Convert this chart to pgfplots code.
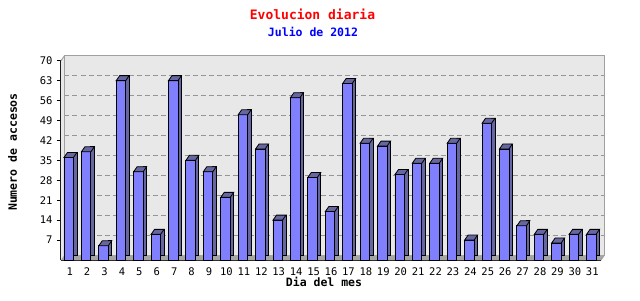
\documentclass[border=0pt]{standalone}
\usepackage{pgfplots}
\usepackage{pgfplotstable}
\pgfplotsset{compat=1.18}
\usepackage{fontspec}
\setmainfont{DejaVu Sans Mono}
\definecolor{barfront}{RGB}{128,128,255}
\definecolor{barside}{RGB}{102,102,160}
\definecolor{wall}{RGB}{232,232,232}
\definecolor{floorc}{RGB}{165,165,165}
\definecolor{gridc}{RGB}{150,150,150}
\definecolor{framec}{RGB}{160,160,160}
\pgfdeclareplotmark{top3d}{%
  \pgfpathmoveto{\pgfqpoint{-5.75pt}{0pt}}%
  \pgfpathlineto{\pgfqpoint{3.75pt}{0pt}}%
  \pgfpathlineto{\pgfqpoint{7.25pt}{5pt}}%
  \pgfpathlineto{\pgfqpoint{-2.25pt}{5pt}}%
  \pgfpathclose
  \pgfusepathqfillstroke
}
\pgfplotstableread{
day val
1 36
2 38
3 5
4 63
5 31
6 9
7 63
8 35
9 31
10 22
11 51
12 39
13 14
14 57
15 29
16 17
17 62
18 41
19 40
20 30
21 34
22 34
23 41
24 7
25 48
26 39
27 12
28 9
29 6
30 9
31 9
}\visits
\begin{document}
\begin{tikzpicture}[x=1pt,y=1pt]
\useasboundingbox[fill=white] (-61,-40) rectangle (579,260);
\node[text=red, font=\fontsize{13}{13}\selectfont\bfseries] at (251.5,246) {Evolucion diaria};
\node[text=blue, font=\fontsize{11.5}{12}\selectfont\bfseries] at (252,228) {Julio de 2012};
\node[rotate=90, font=\fontsize{11.5}{12}\selectfont\bfseries] at (-48.5,108) {Numero de accesos};
\node[font=\fontsize{11.5}{12}\selectfont\bfseries] at (263,-22) {Dia del mes};
\begin{axis}[
  scale only axis,
  width=540pt, height=199.3pt,
  xmin=0.5, xmax=31.5, ymin=0, ymax=70,
  axis x line*=bottom, axis y line*=left,
  axis line style={-, black, line width=1pt},
  clip=false,
  xtick={1,...,31}, ytick={7,14,...,70},
  minor xtick={1.5,2.5,...,31.5},
  tick align=outside,
  xtick style={draw=none},
  ytick style={black, line width=1pt},
  major tick length=4pt,
  minor tick length=3pt,
  minor x tick style={black, line width=1pt},
  /pgf/number format/assume math mode=true,
  ticklabel style={font=\fontsize{10.5}{10.5}\selectfont},
  yticklabel style={xshift=-1pt},
]
\fill[wall] (axis cs:0.5,0) -- (axis cs:0.5,70) -- ([shift={(3.5pt,5pt)}]axis cs:0.5,70)
  -- ([shift={(3.5pt,5pt)}]axis cs:31.5,70) -- ([shift={(3.5pt,5pt)}]axis cs:31.5,0)
  -- (axis cs:31.5,0) -- cycle;
\fill[floorc] (axis cs:0.5,0) -- (axis cs:31.5,0) -- ([shift={(3.5pt,5pt)}]axis cs:31.5,0)
  -- ([shift={(3.5pt,5pt)}]axis cs:0.5,0) -- cycle;
\pgfplotsinvokeforeach{7,14,21,28,35,42,49,56,63}{
  \draw[gridc, line width=0.8pt, dash pattern=on 5pt off 3pt]
    ([shift={(3.5pt,5pt)}]axis cs:0.5,#1) -- ([shift={(3.5pt,5pt)}]axis cs:31.5,#1);
}
\draw[framec, line width=1pt] ([shift={(3.5pt,5pt)}]axis cs:0.5,0) -- ([shift={(3.5pt,5pt)}]axis cs:0.5,70)
  -- ([shift={(3.5pt,5pt)}]axis cs:31.5,70) -- ([shift={(3.5pt,5pt)}]axis cs:31.5,0);
\draw[framec, line width=1pt] (axis cs:0.5,70) -- ([shift={(3.5pt,5pt)}]axis cs:0.5,70);
\draw[framec, line width=1pt] (axis cs:31.5,0) -- ([shift={(3.5pt,5pt)}]axis cs:31.5,0);
% side faces
\addplot[ybar, bar width=3.5pt, bar shift=5.5pt, yshift=5pt, fill=barside, draw=black, line width=0.8pt]
  table[x=day,y=val]{\visits};
% front faces
\addplot[ybar, bar width=9.5pt, bar shift=-1pt, fill=barfront, draw=black, line width=0.8pt]
  table[x=day,y=val]{\visits};
% top faces
\addplot[only marks, mark=top3d, mark options={fill=barside, draw=black, line width=0.8pt}]
  table[x=day,y=val]{\visits};
\end{axis}
\end{tikzpicture}
\end{document}
